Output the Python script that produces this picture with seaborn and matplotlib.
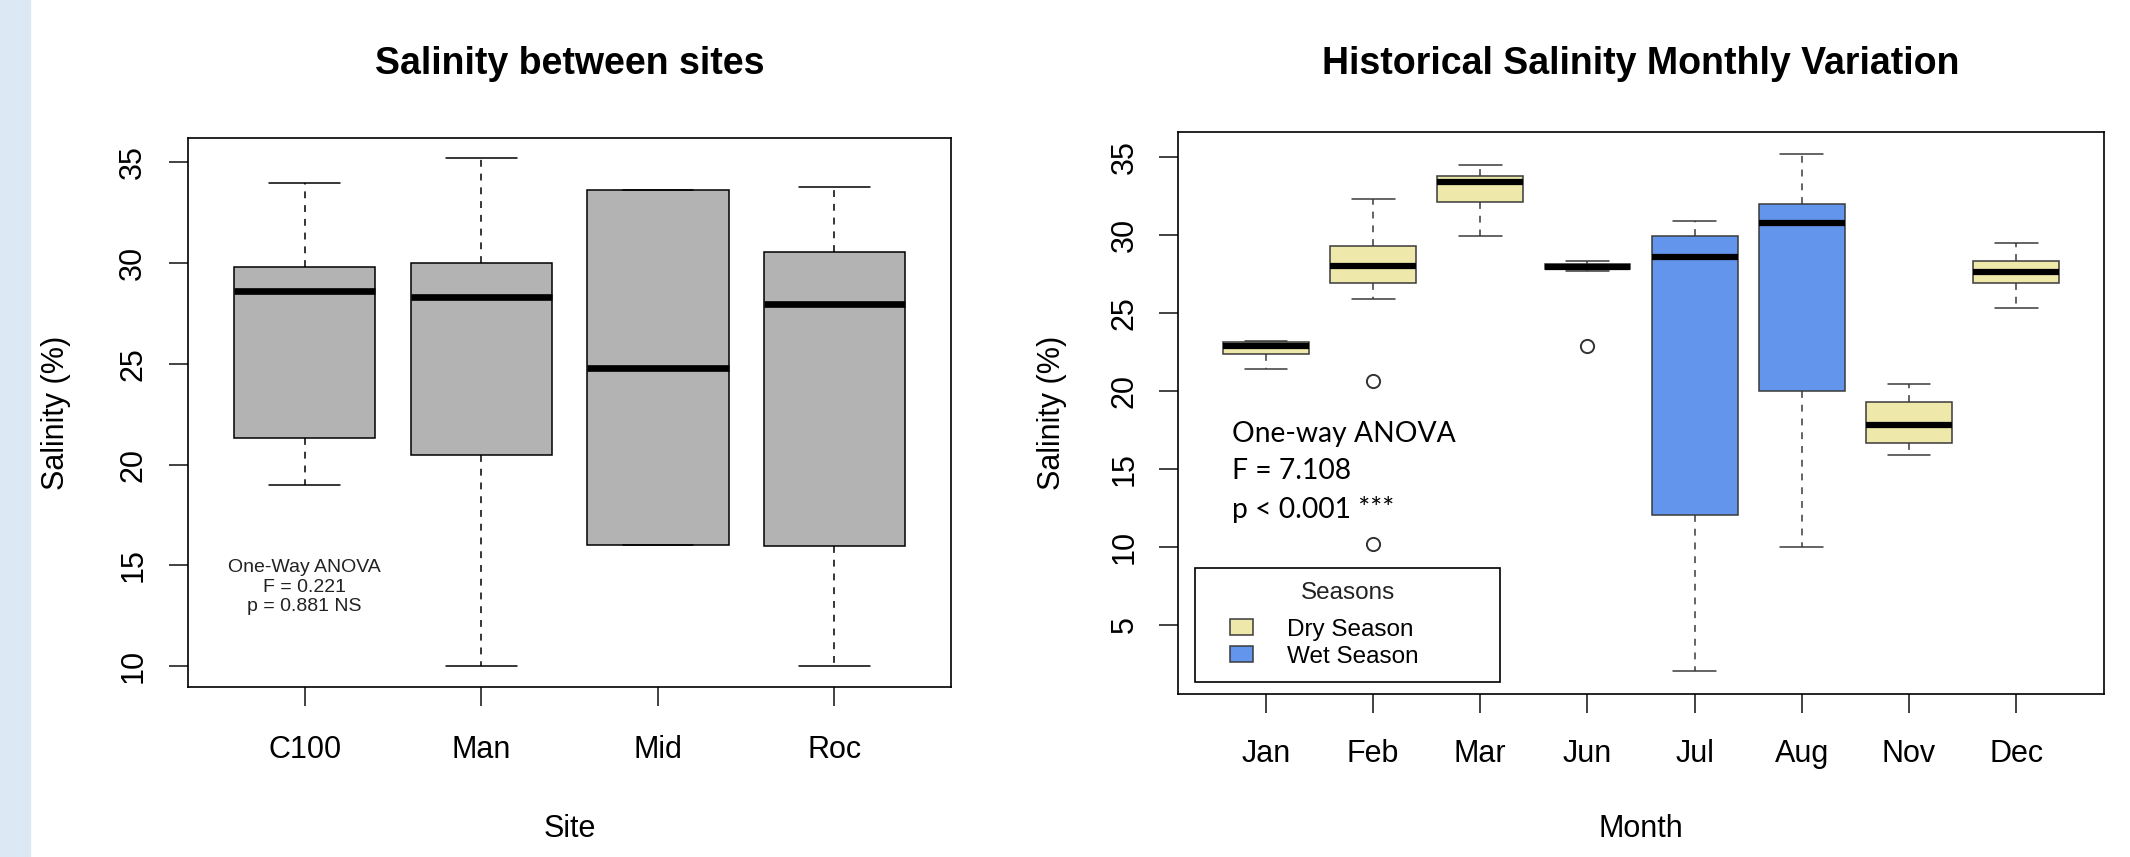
import pandas as pd
import seaborn as sns
import matplotlib.pyplot as plt
from matplotlib.patches import Rectangle, Patch
from matplotlib.legend_handler import HandlerPatch

# five-number summaries
sites = ["C100", "Man", "Mid", "Roc"]
site_low = [19.0, 10.0, 16.0, 10.0]
site_q1 = [21.3, 20.5, 16.0, 15.95]
site_med = [28.6, 28.3, 24.8, 27.95]
site_q3 = [29.8, 30.0, 33.6, 30.55]
site_high = [33.95, 35.2, 33.6, 33.75]

months = ["Jan", "Feb", "Mar", "Jun", "Jul", "Aug", "Nov", "Dec"]
seasons = ["Dry Season", "Dry Season", "Dry Season", "Dry Season",
           "Wet Season", "Wet Season", "Dry Season", "Dry Season"]
month_low = [21.4, 25.9, 29.9, 27.7, 2.0, 10.0, 15.9, 25.3]
month_q1 = [22.35, 26.9, 32.1, 27.8, 12.05, 20.0, 16.65, 26.9]
month_med = [22.9, 28.0, 33.4, 27.95, 28.6, 30.75, 17.8, 27.65]
month_q3 = [23.1, 29.3, 33.8, 28.1, 29.95, 32.0, 19.3, 28.3]
month_high = [23.2, 32.3, 34.5, 28.3, 30.9, 35.2, 20.45, 29.5]

outlier_months = ["Feb", "Feb", "Jun"]
outlier_values = [20.6, 10.2, 22.9]

season_colors = {"Dry Season": "#eee8aa", "Wet Season": "#6495ed"}


def summary_frame(groups, lows, q1s, meds, q3s, highs, name, extra=None):
    # five points per group -> percentiles give back exactly these values
    rows = []
    for i, g in enumerate(groups):
        for v in (lows[i], q1s[i], meds[i], q3s[i], highs[i]):
            row = {name: g, "salinity": v}
            if extra is not None:
                row["season"] = extra[i]
            rows.append(row)
    return pd.DataFrame(rows)


def offset_swatch(legend, orig_handle, xdescent, ydescent, width, height, fontsize):
    # small swatch pushed to the right end of the handle area, like R's legend
    w = 0.95 * fontsize
    return Rectangle((-xdescent + width - w, -ydescent), w, height)


site_df = summary_frame(sites, site_low, site_q1, site_med, site_q3, site_high, "site")
month_df = summary_frame(months, month_low, month_q1, month_med, month_q3, month_high,
                         "month", seasons)

sns.set_style("ticks")
plt.rcParams["font.family"] = ["Liberation Sans", "DejaVu Sans"]
plt.rcParams["text.color"] = "black"
plt.rcParams["axes.labelcolor"] = "black"
plt.rcParams["xtick.color"] = "black"
plt.rcParams["ytick.color"] = "black"

fig = plt.figure(figsize=(21.3, 8.57), dpi=100)
fig.add_artist(Rectangle((0, 0), 30 / 2130, 1, transform=fig.transFigure,
                         color="#dde8f5", zorder=0))

ax1 = fig.add_axes([0.0883, 0.1984, 0.3582, 0.6406])
ax2 = fig.add_axes([0.5531, 0.1902, 0.4347, 0.6558])

dash = (0, (4.5, 4.5))

sns.boxplot(data=site_df, x="site", y="salinity", order=sites, ax=ax1,
            whis=(0, 100), width=0.8, color="#b3b3b3", saturation=1,
            linecolor="black", linewidth=1.1,
            medianprops=dict(color="black", linewidth=4.8),
            whiskerprops=dict(linestyle=dash))

sns.boxplot(data=month_df, x="month", y="salinity", hue="season", order=months,
            hue_order=["Dry Season", "Wet Season"], palette=season_colors,
            dodge=False, ax=ax2, whis=(0, 100), width=0.8, saturation=1,
            linecolor="#3a3a3a", linewidth=1.1,
            medianprops=dict(color="black", linewidth=4.5),
            whiskerprops=dict(linestyle=dash))

sns.stripplot(x=outlier_months, y=outlier_values, order=months, jitter=False,
              color="white", edgecolor="#333333", linewidth=1.4, size=9.5,
              ax=ax2, zorder=5)

ax1.set_xlim(-0.66, 3.66)
ax1.set_ylim(8.97, 36.2)
ax1.set_yticks([10, 15, 20, 25, 30, 35])
ax2.set_xlim(-0.82, 7.82)
ax2.set_ylim(0.55, 36.6)
ax2.set_yticks([5, 10, 15, 20, 25, 30, 35])

for ax in (ax1, ax2):
    for side in ax.spines.values():
        side.set_visible(True)
        side.set_color("black")
        side.set_linewidth(1.2)
    ax.tick_params(axis="both", length=13.7, width=1.2, labelsize=22, color="#222222")
    ax.tick_params(axis="y", labelrotation=90)
    for lbl in ax.get_yticklabels():
        lbl.set_va("center")

ax1.tick_params(axis="x", pad=21)
ax1.tick_params(axis="y", pad=15)
ax2.tick_params(axis="x", pad=19)
ax2.tick_params(axis="y", pad=14)

ax1.set_title("Salinity between sites", fontsize=27, fontweight="bold", pad=46)
ax2.set_title("Historical Salinity Monthly Variation", fontsize=27, fontweight="bold", pad=42)
ax1.set_xlabel("Site", fontsize=22, labelpad=35)
ax1.set_ylabel("Salinity (%)", fontsize=22, labelpad=34)
ax2.set_xlabel("Month", fontsize=22, labelpad=32)
ax2.set_ylabel("Salinity (%)", fontsize=22, labelpad=31)

ax1.text(0, 13.92, "One-Way ANOVA\nF = 0.221\np = 0.881 NS", ha="center", va="center",
         fontsize=14, color="#222222")
ax2.text(-0.316, 14.8, "One-way ANOVA\nF = 7.108\np < 0.001 ***", ha="left", va="center",
         fontsize=20.3, family=["Lato", "DejaVu Sans"], linespacing=1.55, color="black")

sns.move_legend(ax2, "lower left", bbox_to_anchor=(0.018, 0.021, 0.33, 0.208),
                mode="expand", title="Seasons", frameon=True, fancybox=False,
                edgecolor="black", framealpha=1, borderaxespad=0, fontsize=17.5,
                title_fontsize=17.5, handlelength=1.8, handleheight=0.6,
                handletextpad=1.4, labelspacing=0.2, borderpad=0.6,
                handler_map={Patch: HandlerPatch(patch_func=offset_swatch)})
leg = ax2.get_legend()
leg.get_frame().set_linewidth(1.2)
leg.get_title().set_color("#222222")
# a bit more room between the legend title and its entries
leg._legend_box.sep = 17.5 * 0.2 + 6.8

fig.savefig("out.png", dpi=100)
